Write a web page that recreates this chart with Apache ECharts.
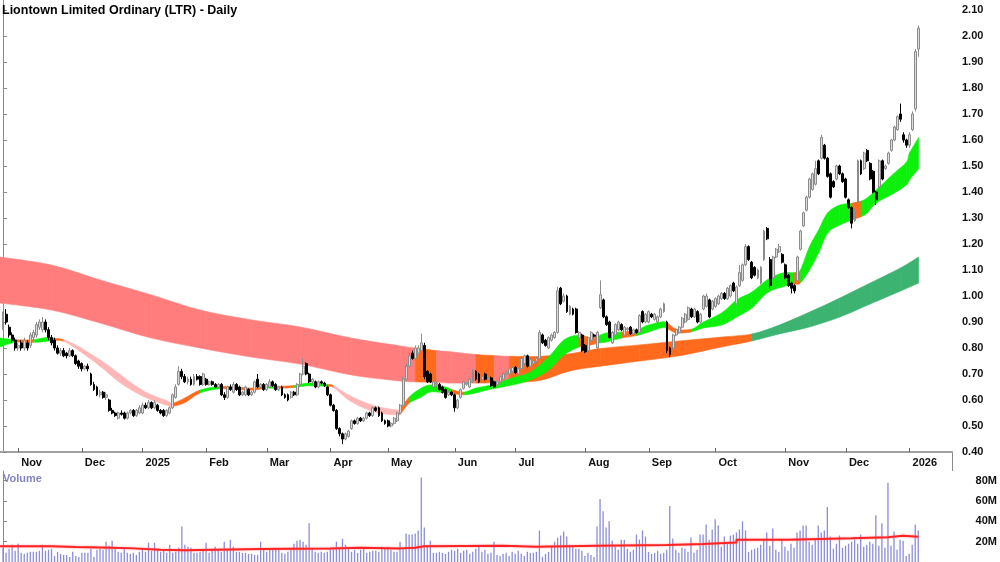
<!DOCTYPE html>
<html>
<head>
<meta charset="utf-8">
<title>Liontown Limited Ordinary (LTR) - Daily</title>
<script src="https://cdn.jsdelivr.net/npm/echarts@6/dist/echarts.min.js"></script>
<style>
html, body { margin: 0; padding: 0; background: #fff; }
#chart { width: 1000px; height: 562px; }
</style>
</head>
<body>
<div id="chart"></div>
<script>
// ASX trading calendar for the period shown
const firstDay = '2024-10-25';
const dayCount = 303;
const holidays = ['2024-12-25', '2024-12-26', '2025-01-01', '2025-01-27', '2025-04-18', '2025-04-21',
    '2025-04-25', '2025-06-09', '2025-12-25', '2025-12-26', '2026-01-01'];
const monthNames = ['Jan', 'Feb', 'Mar', 'Apr', 'May', 'Jun', 'Jul', 'Aug', 'Sep', 'Oct', 'Nov', 'Dec'];

// daily candles: [open, close, low, high]
const candles = [
    // Oct / Nov 2024
    [0.88, 0.92, 0.87, 0.94], [0.93, 0.90, 0.89, 0.95], [0.88, 0.85, 0.84, 0.89], [0.85, 0.83, 0.82, 0.86],
    [0.83, 0.80, 0.79, 0.84], [0.80, 0.81, 0.79, 0.82], [0.82, 0.80, 0.79, 0.83], [0.80, 0.83, 0.79, 0.84],
    [0.82, 0.80, 0.79, 0.83], [0.81, 0.85, 0.80, 0.86], [0.84, 0.86, 0.83, 0.87], [0.85, 0.89, 0.84, 0.90],
    [0.88, 0.90, 0.87, 0.91], [0.87, 0.90, 0.86, 0.92], [0.90, 0.87, 0.86, 0.91], [0.87, 0.84, 0.83, 0.88],
    [0.84, 0.82, 0.81, 0.85], [0.83, 0.80, 0.79, 0.84], [0.80, 0.78, 0.775, 0.81], [0.78, 0.79, 0.77, 0.80],
    [0.79, 0.77, 0.765, 0.80], [0.78, 0.77, 0.76, 0.785], [0.77, 0.79, 0.765, 0.80], [0.79, 0.77, 0.765, 0.795],
    [0.77, 0.74, 0.735, 0.775], [0.75, 0.73, 0.72, 0.755],
    // Dec 2024
    [0.74, 0.72, 0.71, 0.745], [0.72, 0.73, 0.715, 0.735], [0.73, 0.72, 0.71, 0.74], [0.70, 0.66, 0.655, 0.705],
    [0.66, 0.64, 0.635, 0.67], [0.65, 0.62, 0.615, 0.655], [0.62, 0.63, 0.61, 0.64], [0.63, 0.61, 0.605, 0.635],
    [0.61, 0.62, 0.60, 0.63], [0.60, 0.56, 0.555, 0.605], [0.56, 0.55, 0.545, 0.57], [0.55, 0.54, 0.535, 0.555],
    [0.53, 0.55, 0.525, 0.555], [0.55, 0.545, 0.54, 0.56], [0.55, 0.53, 0.525, 0.555], [0.53, 0.55, 0.525, 0.555],
    [0.55, 0.56, 0.545, 0.565], [0.56, 0.54, 0.535, 0.565], [0.54, 0.56, 0.535, 0.565], [0.55, 0.57, 0.545, 0.58],
    // Jan 2025
    [0.55, 0.58, 0.545, 0.59], [0.58, 0.57, 0.565, 0.59], [0.57, 0.59, 0.565, 0.60], [0.59, 0.57, 0.565, 0.595],
    [0.57, 0.59, 0.565, 0.60], [0.58, 0.56, 0.555, 0.585], [0.56, 0.55, 0.545, 0.565], [0.56, 0.54, 0.535, 0.565],
    [0.54, 0.56, 0.535, 0.565], [0.55, 0.57, 0.545, 0.575], [0.57, 0.62, 0.565, 0.625], [0.61, 0.65, 0.605, 0.66],
    [0.66, 0.71, 0.655, 0.73], [0.71, 0.69, 0.68, 0.72], [0.69, 0.67, 0.665, 0.70], [0.67, 0.68, 0.66, 0.69],
    [0.68, 0.66, 0.655, 0.69], [0.66, 0.69, 0.655, 0.70], [0.69, 0.68, 0.675, 0.70], [0.69, 0.66, 0.655, 0.695],
    [0.66, 0.70, 0.655, 0.705],
    // Feb
    [0.68, 0.66, 0.655, 0.685], [0.66, 0.67, 0.655, 0.675], [0.67, 0.66, 0.655, 0.675], [0.66, 0.65, 0.645, 0.665],
    [0.65, 0.66, 0.645, 0.665], [0.66, 0.62, 0.615, 0.665], [0.62, 0.61, 0.60, 0.63], [0.61, 0.65, 0.605, 0.655],
    [0.65, 0.64, 0.635, 0.66], [0.63, 0.66, 0.625, 0.67], [0.66, 0.64, 0.635, 0.665], [0.65, 0.62, 0.615, 0.655],
    [0.62, 0.63, 0.615, 0.635], [0.62, 0.65, 0.615, 0.655], [0.64, 0.62, 0.615, 0.645], [0.62, 0.63, 0.615, 0.635],
    [0.63, 0.67, 0.625, 0.675], [0.68, 0.65, 0.645, 0.70], [0.65, 0.66, 0.645, 0.665], [0.66, 0.64, 0.635, 0.665],
    // Mar
    [0.64, 0.66, 0.635, 0.665], [0.65, 0.67, 0.645, 0.68], [0.67, 0.655, 0.65, 0.675], [0.66, 0.64, 0.635, 0.665],
    [0.64, 0.65, 0.635, 0.655], [0.65, 0.62, 0.615, 0.655], [0.62, 0.61, 0.605, 0.625], [0.62, 0.60, 0.595, 0.625],
    [0.61, 0.63, 0.605, 0.635], [0.63, 0.62, 0.615, 0.635], [0.62, 0.66, 0.615, 0.665], [0.66, 0.70, 0.655, 0.705],
    [0.70, 0.73, 0.695, 0.76], [0.74, 0.70, 0.695, 0.745], [0.70, 0.67, 0.665, 0.705], [0.67, 0.68, 0.665, 0.685],
    [0.67, 0.65, 0.645, 0.675], [0.65, 0.67, 0.645, 0.675], [0.67, 0.665, 0.66, 0.675], [0.665, 0.655, 0.65, 0.67],
    [0.65, 0.62, 0.615, 0.655],
    // Apr
    [0.62, 0.58, 0.575, 0.625], [0.58, 0.56, 0.555, 0.585], [0.56, 0.49, 0.485, 0.565], [0.49, 0.47, 0.46, 0.495],
    [0.47, 0.45, 0.43, 0.475], [0.45, 0.47, 0.445, 0.475], [0.46, 0.48, 0.455, 0.485], [0.49, 0.52, 0.485, 0.525],
    [0.52, 0.51, 0.505, 0.525], [0.51, 0.53, 0.505, 0.535], [0.53, 0.52, 0.515, 0.535], [0.52, 0.53, 0.515, 0.535],
    [0.53, 0.55, 0.525, 0.555], [0.55, 0.54, 0.535, 0.555], [0.54, 0.57, 0.535, 0.575], [0.57, 0.56, 0.555, 0.575],
    [0.57, 0.54, 0.535, 0.575], [0.55, 0.52, 0.515, 0.555], [0.52, 0.51, 0.505, 0.525],
    // May
    [0.52, 0.50, 0.495, 0.525], [0.50, 0.51, 0.495, 0.515], [0.51, 0.53, 0.505, 0.535], [0.52, 0.55, 0.515, 0.555],
    [0.55, 0.58, 0.545, 0.585], [0.58, 0.68, 0.575, 0.69], [0.68, 0.73, 0.675, 0.74], [0.73, 0.77, 0.725, 0.78],
    [0.78, 0.76, 0.755, 0.79], [0.76, 0.80, 0.755, 0.81], [0.78, 0.80, 0.775, 0.81], [0.79, 0.82, 0.785, 0.855],
    [0.81, 0.69, 0.68, 0.82], [0.71, 0.67, 0.665, 0.715], [0.70, 0.67, 0.665, 0.705], [0.65, 0.67, 0.645, 0.675],
    [0.66, 0.665, 0.655, 0.67], [0.66, 0.64, 0.635, 0.665], [0.65, 0.63, 0.625, 0.655], [0.64, 0.61, 0.605, 0.645],
    [0.62, 0.63, 0.615, 0.635], [0.63, 0.62, 0.615, 0.635],
    // Jun
    [0.62, 0.57, 0.555, 0.625], [0.57, 0.60, 0.565, 0.605], [0.61, 0.64, 0.605, 0.645], [0.645, 0.67, 0.64, 0.675],
    [0.66, 0.665, 0.655, 0.67], [0.65, 0.68, 0.645, 0.685], [0.67, 0.71, 0.665, 0.72], [0.71, 0.68, 0.675, 0.715],
    [0.70, 0.67, 0.665, 0.705], [0.68, 0.69, 0.675, 0.695], [0.70, 0.68, 0.675, 0.705], [0.68, 0.685, 0.675, 0.69],
    [0.685, 0.655, 0.65, 0.69], [0.67, 0.65, 0.645, 0.675], [0.66, 0.67, 0.655, 0.675], [0.67, 0.69, 0.665, 0.695],
    [0.68, 0.70, 0.675, 0.705], [0.70, 0.705, 0.695, 0.71], [0.70, 0.72, 0.695, 0.725], [0.71, 0.725, 0.705, 0.73],
    // Jul
    [0.725, 0.705, 0.70, 0.73], [0.70, 0.72, 0.695, 0.725], [0.72, 0.76, 0.715, 0.765], [0.74, 0.77, 0.735, 0.775],
    [0.77, 0.73, 0.725, 0.775], [0.73, 0.755, 0.725, 0.76], [0.74, 0.75, 0.735, 0.755], [0.75, 0.76, 0.745, 0.765],
    [0.76, 0.86, 0.755, 0.87], [0.85, 0.82, 0.815, 0.855], [0.83, 0.81, 0.805, 0.835], [0.80, 0.84, 0.795, 0.845],
    [0.83, 0.85, 0.825, 0.855], [0.84, 0.86, 0.835, 0.865], [0.86, 1.02, 0.855, 1.035], [1.03, 0.97, 0.965, 1.035],
    [0.98, 1.00, 0.975, 1.01], [1.00, 0.94, 0.935, 1.005], [0.93, 0.96, 0.925, 0.965], [0.95, 0.93, 0.925, 0.955],
    [0.95, 0.86, 0.855, 0.955], [0.84, 0.86, 0.835, 0.865], [0.85, 0.79, 0.785, 0.855],
    // Aug
    [0.81, 0.785, 0.78, 0.815], [0.79, 0.84, 0.785, 0.845], [0.83, 0.86, 0.825, 0.865], [0.85, 0.845, 0.84, 0.855],
    [0.80, 0.86, 0.775, 0.865], [0.955, 1.005, 0.95, 1.06], [0.985, 0.92, 0.915, 0.99], [0.92, 0.89, 0.885, 0.925],
    [0.90, 0.84, 0.835, 0.905], [0.82, 0.86, 0.815, 0.865], [0.85, 0.89, 0.845, 0.895], [0.87, 0.90, 0.865, 0.905],
    [0.89, 0.87, 0.865, 0.895], [0.85, 0.88, 0.845, 0.885], [0.87, 0.875, 0.865, 0.88], [0.88, 0.855, 0.85, 0.885],
    [0.855, 0.87, 0.85, 0.875], [0.87, 0.86, 0.855, 0.875], [0.86, 0.925, 0.855, 0.93], [0.94, 0.90, 0.895, 0.945],
    [0.90, 0.93, 0.895, 0.935],
    // Sep
    [0.90, 0.94, 0.895, 0.945], [0.93, 0.92, 0.915, 0.935], [0.91, 0.93, 0.905, 0.935], [0.90, 0.92, 0.895, 0.925],
    [0.92, 0.95, 0.915, 0.955], [0.94, 0.97, 0.935, 0.975], [0.90, 0.79, 0.78, 0.905], [0.80, 0.775, 0.765, 0.805],
    [0.80, 0.85, 0.795, 0.855], [0.85, 0.87, 0.845, 0.875], [0.86, 0.88, 0.855, 0.885], [0.88, 0.915, 0.875, 0.92],
    [0.90, 0.93, 0.895, 0.935], [0.91, 0.955, 0.905, 0.96], [0.95, 0.92, 0.915, 0.955], [0.92, 0.95, 0.915, 0.955],
    [0.94, 0.90, 0.895, 0.945], [0.90, 0.93, 0.895, 0.935], [0.95, 1.00, 0.945, 1.005], [0.96, 1.00, 0.955, 1.01],
    [0.985, 0.92, 0.915, 0.99], [0.95, 0.98, 0.945, 0.985],
    // Oct
    [0.96, 0.99, 0.955, 0.995], [0.97, 1.00, 0.965, 1.005], [0.99, 1.01, 0.985, 1.015], [1.01, 0.99, 0.985, 1.015],
    [0.99, 1.03, 0.985, 1.035], [1.00, 1.04, 0.995, 1.045], [1.05, 1.02, 1.015, 1.055], [0.97, 1.035, 0.965, 1.04],
    [1.04, 1.09, 1.035, 1.12], [1.06, 1.12, 1.055, 1.125], [1.12, 1.19, 1.115, 1.20], [1.19, 1.14, 1.135, 1.195],
    [1.13, 1.07, 1.065, 1.135], [1.11, 1.08, 1.075, 1.115], [1.07, 1.10, 1.065, 1.105], [1.05, 1.11, 1.045, 1.115],
    [1.14, 1.25, 1.135, 1.255], [1.26, 1.22, 1.215, 1.265], [1.14, 1.04, 1.03, 1.15], [1.07, 1.15, 1.065, 1.155],
    [1.15, 1.18, 1.145, 1.185], [1.17, 1.19, 1.165, 1.20], [1.16, 1.13, 1.125, 1.165],
    // Nov
    [1.12, 1.07, 1.065, 1.125], [1.08, 1.04, 1.035, 1.085], [1.05, 1.03, 1.01, 1.055], [1.04, 1.02, 1.01, 1.045],
    [1.06, 1.15, 1.055, 1.155], [1.18, 1.25, 1.175, 1.255], [1.27, 1.32, 1.265, 1.325], [1.33, 1.38, 1.325, 1.385],
    [1.38, 1.45, 1.375, 1.455], [1.41, 1.47, 1.405, 1.475], [1.43, 1.49, 1.425, 1.52], [1.52, 1.47, 1.465, 1.525],
    [1.53, 1.61, 1.525, 1.62], [1.58, 1.53, 1.525, 1.585], [1.53, 1.46, 1.455, 1.535], [1.47, 1.38, 1.375, 1.475],
    [1.44, 1.42, 1.415, 1.445], [1.45, 1.50, 1.445, 1.505], [1.50, 1.47, 1.465, 1.505], [1.47, 1.44, 1.435, 1.475],
    // Dec
    [1.45, 1.38, 1.375, 1.455], [1.37, 1.34, 1.335, 1.375], [1.34, 1.28, 1.26, 1.345], [1.29, 1.33, 1.285, 1.335],
    [1.36, 1.52, 1.355, 1.525], [1.52, 1.47, 1.465, 1.525], [1.49, 1.55, 1.485, 1.555], [1.56, 1.52, 1.515, 1.565],
    [1.51, 1.45, 1.445, 1.515], [1.48, 1.40, 1.395, 1.485], [1.40, 1.37, 1.35, 1.405], [1.42, 1.52, 1.415, 1.525],
    [1.52, 1.45, 1.445, 1.525], [1.49, 1.50, 1.485, 1.505], [1.51, 1.55, 1.505, 1.555], [1.56, 1.60, 1.555, 1.605],
    [1.60, 1.65, 1.595, 1.655], [1.64, 1.69, 1.635, 1.695], [1.70, 1.68, 1.67, 1.74], [1.62, 1.60, 1.59, 1.63],
    [1.60, 1.58, 1.57, 1.605],
    // Jan 2026
    [1.58, 1.62, 1.57, 1.63], [1.64, 1.70, 1.635, 1.71], [1.72, 1.94, 1.71, 1.95], [1.95, 2.03, 1.92, 2.04]
];

// daily volume, millions of shares
const volumes = [
    14, 9, 13, 17, 11, 18, 9, 8, 9, 10, 10, 10, 11, 17, 11, 12, 13, 6, 10, 8, 7, 7, 5, 10, 6, 5,
    9, 9, 9, 13, 5, 12, 13, 12, 20, 16, 21, 14, 10, 9, 13, 9, 8, 9, 7, 10,
    13, 10, 19, 11, 19, 13, 10, 11, 9, 17, 9, 10, 14, 35, 17, 15, 14, 9, 9, 10, 12,
    19, 9, 12, 15, 12, 10, 20, 13, 22, 15, 10, 10, 9, 9, 8, 8, 7, 7, 20, 12,
    10, 12, 12, 13, 12, 9, 8, 10, 12, 18, 21, 22, 20, 17, 38, 13, 10, 9, 10, 9, 10,
    13, 12, 20, 14, 23, 17, 13, 10, 12, 9, 12, 13, 9, 10, 11, 11, 10, 15, 14,
    15, 12, 10, 10, 20, 13, 28, 27, 27, 28, 31, 83, 34, 16, 21, 9, 9, 10, 9, 8, 10, 12,
    11, 13, 9, 11, 12, 8, 10, 13, 15, 10, 12, 8, 9, 20, 7, 6, 8, 9, 6, 10,
    8, 11, 8, 6, 10, 9, 9, 10, 31, 5, 8, 10, 16, 20, 24, 26, 30, 25, 17, 16, 13, 13, 11,
    6, 9, 7, 5, 35, 62, 50, 34, 40, 21, 15, 12, 22, 22, 13, 10, 12, 27, 22, 31, 25,
    10, 8, 9, 11, 8, 9, 12, 55, 23, 12, 9, 14, 13, 10, 24, 9, 12, 27, 27, 37, 22, 32,
    42, 36, 15, 25, 18, 26, 27, 29, 32, 40, 31, 10, 12, 13, 14, 17, 22, 29, 16, 33, 12, 10, 22,
    15, 11, 18, 14, 29, 31, 36, 36, 20, 17, 22, 36, 29, 31, 54, 25, 13, 18, 26, 14,
    16, 18, 20, 22, 18, 27, 15, 17, 20, 18, 46, 16, 38, 14, 78, 16, 30, 12, 22, 21, 6,
    8, 17, 37, 31
];

// volume average line: [day index, millions]
const volumeAvg = [
    [-1, 15.4], [16, 14.8], [24, 14.1], [36, 13.4], [43, 12.1], [52, 11.5], [60, 12.8], [85, 13.4],
    [108, 14.1], [118, 13.4], [131, 14.1], [136, 15.4], [139, 16.1], [165, 15.1], [176, 16.1], [196, 16.7],
    [219, 17.7], [231, 19.3], [242, 22.0], [259, 23.3], [280, 24.3], [292, 25.9], [297, 24.9], [302, 24.9]
];

// ribbons: [day index, lower edge, upper edge, colour of the stretch that starts here]
const shortBand = [
    [-1, 0.804, 0.838, 'g'], [4, 0.822, 0.832, 'o'], [10, 0.822, 0.832, 'g'], [14, 0.825, 0.840, 'g'],
    [16, 0.828, 0.838, 'o'], [20, 0.826, 0.832, 'p'], [25, 0.790, 0.805, 'p'], [32, 0.730, 0.754, 'p'],
    [38, 0.672, 0.704, 'p'], [43, 0.634, 0.660, 'p'], [48, 0.605, 0.625, 'p'], [54, 0.580, 0.597, 'p'],
    [56, 0.576, 0.588, 'o'], [60, 0.590, 0.608, 'o'], [65, 0.627, 0.638, 'g'], [72, 0.643, 0.652, 'o'],
    [82, 0.638, 0.646, 'o'], [87, 0.646, 0.654, 'g'], [90, 0.645, 0.652, 'o'], [96, 0.648, 0.656, 'g'],
    [101, 0.655, 0.665, 'g'], [107, 0.652, 0.660, 'o'], [109, 0.648, 0.655, 'p'], [114, 0.600, 0.619, 'p'],
    [119, 0.569, 0.592, 'p'], [124, 0.550, 0.573, 'p'], [130, 0.542, 0.562, 'p'], [131, 0.545, 0.565, 'o'],
    [134, 0.588, 0.612, 'g'], [138, 0.612, 0.646, 'g'], [141, 0.631, 0.658, 'g'], [146, 0.627, 0.650, 'g'],
    [148, 0.625, 0.640, 'o'], [152, 0.620, 0.630, 'g'], [156, 0.627, 0.646, 'g'], [161, 0.642, 0.658, 'g'],
    [168, 0.658, 0.685, 'g'], [174, 0.677, 0.708, 'g'], [180, 0.715, 0.766, 'g'], [185, 0.773, 0.831, 'g'],
    [190, 0.804, 0.850, 'o'], [194, 0.812, 0.838, 'o'], [196, 0.818, 0.845, 'g'], [199, 0.823, 0.858, 'g'],
    [204, 0.838, 0.862, 'o'], [209, 0.848, 0.868, 'g'], [212, 0.858, 0.885, 'g'], [217, 0.877, 0.900, 'g'],
    [219, 0.875, 0.897, 'o'], [222, 0.858, 0.873, 'o'], [227, 0.862, 0.872, 'g'], [231, 0.877, 0.900, 'g'],
    [237, 0.888, 0.935, 'g'], [242, 0.919, 0.985, 'g'], [247, 0.954, 1.015, 'g'], [252, 1.012, 1.062, 'g'],
    [257, 1.035, 1.088, 'g'], [261, 1.045, 1.090, 'o'], [263, 1.050, 1.100, 'g'], [266, 1.100, 1.190, 'g'],
    [269, 1.165, 1.254, 'g'], [272, 1.242, 1.320, 'g'], [276, 1.273, 1.350, 'g'], [280, 1.292, 1.357, 'o'],
    [283, 1.305, 1.365, 'g'], [285, 1.319, 1.377, 'g'], [288, 1.357, 1.408, 'g'], [294, 1.396, 1.473, 'g'],
    [298, 1.427, 1.515, 'g'], [299, 1.446, 1.550, 'g'], [302, 1.490, 1.610, 'g']
];
const longBand = [
    [-1, 0.973, 1.150, 'r'], [16, 0.946, 1.119, 'r'], [32, 0.896, 1.062, 'r'], [49, 0.838, 1.004, 'r'],
    [65, 0.800, 0.946, 'r'], [82, 0.765, 0.908, 'r'], [98, 0.738, 0.881, 'r'], [115, 0.696, 0.838, 'r'],
    [131, 0.673, 0.808, 'r'], [136, 0.670, 0.800, 'o'], [143, 0.667, 0.790, 'r'], [148, 0.665, 0.785, 'r'],
    [156, 0.665, 0.775, 'o'], [162, 0.666, 0.771, 'r'], [167, 0.668, 0.768, 'o'], [177, 0.675, 0.768, 'o'],
    [187, 0.712, 0.778, 'o'], [197, 0.730, 0.798, 'o'], [210, 0.750, 0.812, 'o'], [223, 0.770, 0.827, 'o'],
    [237, 0.804, 0.842, 'o'], [247, 0.827, 0.854, 'd'], [256, 0.854, 0.888, 'd'], [266, 0.881, 0.938, 'd'],
    [276, 0.919, 0.992, 'd'], [286, 0.969, 1.050, 'd'], [296, 1.019, 1.108, 'd'], [302, 1.050, 1.150, 'd']
];
const bandColors = { g: '#0cf00c', o: '#ff6a1c', p: '#ffb6b6', r: '#ff7d7d', d: '#3cb371' };

const fontFamily = '"Liberation Sans", Arial, sans-serif';

// trading days -> month ticks
const tradingDays = [];
(function () {
    let d = new Date(firstDay + 'T00:00:00Z');
    while (tradingDays.length < dayCount) {
        const iso = d.toISOString().slice(0, 10);
        const wd = d.getUTCDay();
        if (wd !== 0 && wd !== 6 && holidays.indexOf(iso) < 0) tradingDays.push(iso);
        d.setUTCDate(d.getUTCDate() + 1);
    }
})();
const monthStarts = [];
const monthLabels = {};
tradingDays.forEach(function (day, i) {
    if (i > 0 && day.slice(5, 7) !== tradingDays[i - 1].slice(5, 7)) {
        monthStarts.push(i);
        const m = +day.slice(5, 7);
        monthLabels[i] = m === 1 ? day.slice(0, 4) : monthNames[m - 1];
    }
});

// ribbon piece between sample k and k+1, edges drawn as smooth curves through the samples
function ribbon(rows) {
    function ctrl(pts, k) {
        const p0 = pts[Math.max(k - 1, 0)], p1 = pts[k], p2 = pts[k + 1], p3 = pts[Math.min(k + 2, pts.length - 1)];
        return [
            [p1[0] + (p2[0] - p0[0]) / 6, p1[1] + (p2[1] - p0[1]) / 6],
            [p2[0] - (p3[0] - p1[0]) / 6, p2[1] - (p3[1] - p1[1]) / 6]
        ];
    }
    return function (params, api) {
        const k = params.dataIndex;
        if (k >= rows.length - 1) return;
        const top = rows.map(function (r) { return api.coord([r[0], r[2]]); });
        const bot = rows.map(function (r) { return api.coord([r[0], r[1]]); });
        const ct = ctrl(top, k), cb = ctrl(bot, k);
        const f = function (p) { return p[0].toFixed(2) + ' ' + p[1].toFixed(2); };
        const d = 'M' + f(top[k]) + ' C' + f(ct[0]) + ' ' + f(ct[1]) + ' ' + f(top[k + 1]) +
            ' L' + f(bot[k + 1]) + ' C' + f(cb[1]) + ' ' + f(cb[0]) + ' ' + f(bot[k]) + ' Z';
        const col = bandColors[rows[k][3]];
        return {
            type: 'path',
            shape: { pathData: d },
            style: { fill: col, stroke: col, lineWidth: 0.6 }
        };
    };
}

let chart = echarts.init(document.getElementById('chart'));
let option = {
    animation: false,
    backgroundColor: '#fff',
    title: {
        text: 'Liontown Limited Ordinary (LTR) - Daily',
        left: 2,
        top: 4,
        padding: 0,
        textStyle: { color: '#000', fontSize: 12.5, fontWeight: 'bold', fontFamily: fontFamily }
    },
    graphic: [
        {
            type: 'text', left: 3, top: 473,
            style: { text: 'Volume', fill: '#8484c4', font: 'bold 11px ' + fontFamily }
        },
        {
            type: 'line', shape: { x1: 952.5, y1: 452, x2: 952.5, y2: 471 },
            style: { stroke: '#8a8a8a', lineWidth: 1 }
        }
    ],
    grid: [
        { left: 0, right: 48, top: 0, bottom: 110 },
        { left: 0, right: 48, top: 471, bottom: 0 }
    ],
    xAxis: [
        {
            type: 'value', gridIndex: 0, min: -1, max: 313,
            axisLine: { lineStyle: { color: '#a0a0a0', width: 2 } },
            axisTick: { customValues: monthStarts, inside: true, length: 4, lineStyle: { color: '#666' } },
            axisLabel: {
                customValues: monthStarts,
                formatter: function (v) { return monthLabels[v] || ''; },
                align: 'left', margin: 5, padding: [0, 0, 0, 3],
                color: '#111', fontSize: 11, fontWeight: 'bold', fontFamily: fontFamily
            },
            splitLine: { show: false }
        },
        {
            type: 'value', gridIndex: 1, min: -1, max: 313, position: 'top',
            axisLine: { lineStyle: { color: '#555', width: 1 } },
            axisTick: { show: false },
            axisLabel: { show: false },
            splitLine: { show: false }
        }
    ],
    yAxis: [
        {
            type: 'value', gridIndex: 0, position: 'right',
            min: 0.4, max: 2.1385, interval: 0.1,
            axisLine: { show: true, lineStyle: { color: '#8a8a8a' } },
            axisTick: { show: true, length: 4, lineStyle: { color: '#8a8a8a' } },
            axisLabel: {
                showMaxLabel: false, margin: 10,
                formatter: function (v) { return v.toFixed(2); },
                color: '#111', fontSize: 11, fontWeight: 'bold', fontFamily: fontFamily
            },
            splitLine: { show: false }
        },
        {
            type: 'value', gridIndex: 1, position: 'right',
            min: 0, max: 89.5, interval: 20,
            axisLine: { show: true, lineStyle: { color: '#8a8a8a' } },
            axisTick: { show: true, length: 4, lineStyle: { color: '#8a8a8a' } },
            axisLabel: {
                showMaxLabel: false, showMinLabel: false, margin: 24,
                formatter: function (v) { return v + 'M'; },
                color: '#111', fontSize: 11, fontWeight: 'bold', fontFamily: fontFamily
            },
            splitLine: { show: false }
        }
    ],
    series: [
        {
            name: 'long ribbon', type: 'custom', xAxisIndex: 0, yAxisIndex: 0, z: 1,
            renderItem: ribbon(longBand),
            encode: { x: 0, y: [1, 2] },
            data: longBand.map(function (r) { return [r[0], r[1], r[2]]; })
        },
        {
            name: 'short ribbon', type: 'custom', xAxisIndex: 0, yAxisIndex: 0, z: 2,
            renderItem: ribbon(shortBand),
            encode: { x: 0, y: [1, 2] },
            data: shortBand.map(function (r) { return [r[0], r[1], r[2]]; })
        },
        {
            name: 'LTR', type: 'candlestick', xAxisIndex: 0, yAxisIndex: 0, z: 3,
            barWidth: 2.4,
            encode: { x: 0, y: [1, 2, 3, 4] },
            data: candles.map(function (c, i) { return [i, c[0], c[1], c[2], c[3]]; }),
            itemStyle: { color: '#dcdcdc', color0: '#000', borderColor: '#8c8c8c', borderColor0: '#000', borderWidth: 1 }
        },
        {
            name: 'Volume', type: 'bar', xAxisIndex: 1, yAxisIndex: 1,
            barWidth: 1.3,
            data: volumes.map(function (v, i) { return [i, v]; }),
            itemStyle: { color: '#8c8cd8' }
        },
        {
            name: 'Volume average', type: 'line', xAxisIndex: 1, yAxisIndex: 1,
            step: 'end', showSymbol: false, z: 3,
            data: volumeAvg,
            lineStyle: { color: '#ff2424', width: 2, shadowColor: 'rgba(255,120,120,0.8)', shadowBlur: 2 }
        }
    ]
};
chart.setOption(option);
</script>
</body>
</html>
